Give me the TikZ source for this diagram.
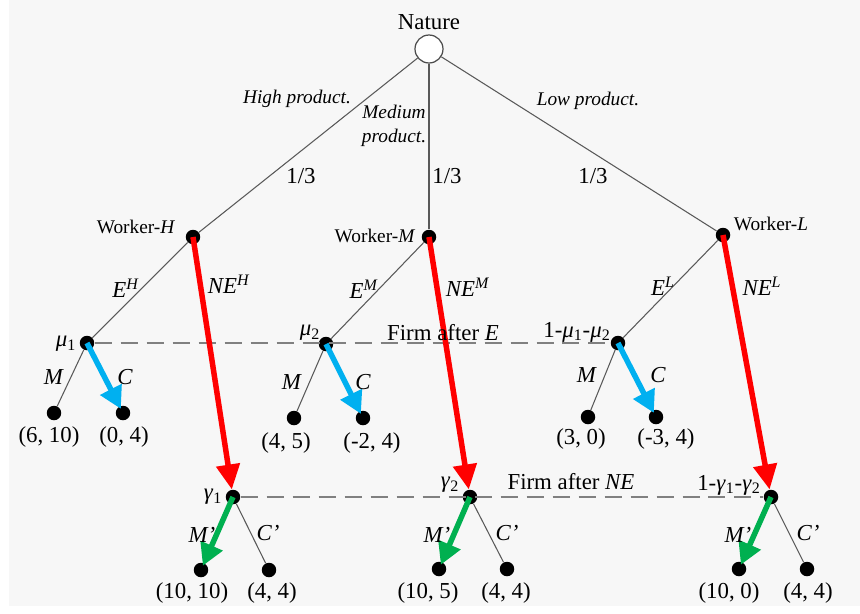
\documentclass[tikz,border=0pt]{standalone}
\usepackage{fontspec}
\setmainfont{Liberation Serif}
\usetikzlibrary{arrows.meta}
\definecolor{bgGray}{RGB}{247,247,247}
\definecolor{cBlue}{RGB}{0,176,240}
\definecolor{cGreen}{RGB}{0,176,80}
\newcommand\itsup[2]{\textit{#1}\textsuperscript{\textit{#2}}}
\newcommand\itsub[2]{\textit{#1}\textsubscript{#2}}
\begin{document}
\begin{tikzpicture}[x=0.02cm,y=-0.02cm,
    gLine/.style={draw=black!65,line width=0.6pt},
    gNat/.style={circle,draw=black!70,fill=white,line width=0.7pt,minimum size=0.56cm,inner sep=0pt},
    gDot/.style={circle,fill=black,minimum size=0.29cm,inner sep=0pt},
    gInfo/.style={draw=black!50,line width=1.1pt,dash pattern=on 0.34cm off 0.18cm},
    gRed/.style={-{Triangle[length=0.5cm,width=0.46cm]},line width=0.11cm,draw=red},
    gBlue/.style={-{Triangle[length=0.44cm,width=0.46cm]},line width=0.11cm,draw=cBlue},
    gGreen/.style={-{Triangle[length=0.44cm,width=0.46cm]},line width=0.11cm,draw=cGreen},
    gLbl/.style={font=\fontsize{13}{15}\selectfont,inner sep=0pt},
    gSmall/.style={font=\fontsize{11}{13.6}\selectfont,inner sep=0pt},
]
\useasboundingbox (0,0) rectangle (860,613);
\fill[bgGray] (9,0) rectangle (860,606);
% Nature
\node[gNat] (nat) at (429,49) {};
\node[gLbl] (natL) at (429,22) {Nature};
% Workers
\node[gDot] (wH) at (193,237) {};
\node[gDot] (wM) at (429,237) {};
\node[gDot] (wL) at (723,235) {};
% Firm after E
\node[gDot] (mu1) at (87,343) {};
\node[gDot] (mu2) at (326,344) {};
\node[gDot] (mu3) at (618,343) {};
% Firm after NE
\node[gDot] (ga1) at (233,497) {};
\node[gDot] (ga2) at (470,497) {};
\node[gDot] (ga3) at (771,497) {};
% Leaves after E
\node[gDot] (lHM) at (54,413) {};
\node[gDot] (lHC) at (123,413) {};
\node[gDot] (lMM) at (294,418) {};
\node[gDot] (lMC) at (363,418) {};
\node[gDot] (lLM) at (588,417) {};
\node[gDot] (lLC) at (656,417) {};
% Leaves after NE
\node[gDot] (nHM) at (201,570) {};
\node[gDot] (nHC) at (269,570) {};
\node[gDot] (nMM) at (439,569) {};
\node[gDot] (nMC) at (507,569) {};
\node[gDot] (nLM) at (739,569) {};
\node[gDot] (nLC) at (807,569) {};
% Information sets
\draw[gInfo] (mu1) -- (mu3);
\draw[gInfo] (ga1) -- (ga3);
% Thin branches
\draw[gLine] (nat) -- (wH);
\draw[gLine] (nat) -- (wM);
\draw[gLine] (nat) -- (wL);
\draw[gLine] (wH) -- (mu1);
\draw[gLine] (wM) -- (mu2);
\draw[gLine] (wL) -- (mu3);
\draw[gLine] (mu1) -- (lHM);
\draw[gLine] (mu2) -- (lMM);
\draw[gLine] (mu3) -- (lLM);
\draw[gLine] (ga1) -- (nHC);
\draw[gLine] (ga2) -- (nMC);
\draw[gLine] (ga3) -- (nLC);
% Equilibrium paths
\draw[gRed] (wH.center) -- (ga1);
\draw[gRed] (wM.center) -- (ga2);
\draw[gRed] (wL.center) -- (ga3);
\draw[gBlue,shorten >=-0.06cm] (mu1.center) -- (lHC);
\draw[gBlue,shorten >=-0.06cm] (mu2.center) -- (lMC);
\draw[gBlue,shorten >=-0.06cm] (mu3.center) -- (lLC);
\draw[gGreen,shorten >=-0.06cm] (ga1.center) -- (nHM);
\draw[gGreen,shorten >=-0.06cm] (ga2.center) -- (nMM);
\draw[gGreen,shorten >=-0.06cm] (ga3.center) -- (nLM);
% Nature labels
\node[gSmall,font=\fontsize{11}{13.6}\itshape] (tHi) at (297,99) {High product.};
\node[gSmall,font=\fontsize{11}{13.6}\itshape,align=center] (tMe) at (394,126) {Medium\\product.};
\node[gSmall,font=\fontsize{11}{13.6}\itshape] (tLo) at (588,101) {Low product.};
\node[gLbl] (p1) at (301,176) {1/3};
\node[gLbl] (p2) at (447,176) {1/3};
\node[gLbl] (p3) at (593,176) {1/3};
% Worker labels
\node[gSmall] (wHL) at (136,227) {Worker-\textit{H}};
\node[gSmall] (wML) at (375,236) {Worker-\textit{M}};
\node[gSmall] (wLL) at (771,224) {Worker-\textit{L}};
\node[gLbl] (eH) at (126,288) {\itsup{E}{H}};
\node[gLbl] (neH) at (229,284) {\itsup{NE}{H}};
\node[gLbl] (eM) at (364,289) {\itsup{E}{M}};
\node[gLbl] (neM) at (468,287) {\itsup{NE}{M}};
\node[gLbl] (eL) at (663,286) {\itsup{E}{L}};
\node[gLbl] (neL) at (762,286) {\itsup{NE}{L}};
% Beliefs
\node[gLbl] (mu1L) at (66,344) {\itsub{μ}{1}};
\node[gLbl] (mu2L) at (310,333) {\itsub{μ}{2}};
\node[gLbl] (mu3L) at (577,332) {1-\itsub{μ}{1}-\itsub{μ}{2}};
\node[gLbl] (fE) at (443,333) {Firm after \textit{E}};
\node[gLbl] (ga1L) at (213,497) {\itsub{γ}{1}};
\node[gLbl] (ga2L) at (450,485) {\itsub{γ}{2}};
\node[gLbl] (ga3L) at (729,485) {1-\itsub{γ}{1}-\itsub{γ}{2}};
\node[gLbl] (fNE) at (571,482) {Firm after \textit{NE}};
% Firm actions
\node[gLbl] (aHM) at (54,377) {\textit{M}};
\node[gLbl] (aHC) at (125,377) {\textit{C}};
\node[gLbl] (aMM) at (292,382) {\textit{M}};
\node[gLbl] (aMC) at (363,382) {\textit{C}};
\node[gLbl] (aLM) at (587,375) {\textit{M}};
\node[gLbl] (aLC) at (658,375) {\textit{C}};
\node[gLbl] (bHM) at (202,535) {\textit{M'}};
\node[gLbl] (bHC) at (268,533) {\textit{C'}};
\node[gLbl] (bMM) at (437,535) {\textit{M'}};
\node[gLbl] (bMC) at (507,533) {\textit{C'}};
\node[gLbl] (bLM) at (738,535) {\textit{M'}};
\node[gLbl] (bLC) at (808,533) {\textit{C'}};
% Payoffs
\node[gLbl] (oHM) at (49,437) {(6, 10)};
\node[gLbl] (oHC) at (124,437) {(0, 4)};
\node[gLbl] (oMM) at (286,443) {(4, 5)};
\node[gLbl] (oMC) at (372,443) {(-2, 4)};
\node[gLbl] (oLM) at (581,439) {(3, 0)};
\node[gLbl] (oLC) at (666,439) {(-3, 4)};
\node[gLbl] (qHM) at (192,593) {(10, 10)};
\node[gLbl] (qHC) at (272,593) {(4, 4)};
\node[gLbl] (qMM) at (428,593) {(10, 5)};
\node[gLbl] (qMC) at (506,593) {(4, 4)};
\node[gLbl] (qLM) at (729,593) {(10, 0)};
\node[gLbl] (qLC) at (808,593) {(4, 4)};
\end{tikzpicture}
\end{document}
